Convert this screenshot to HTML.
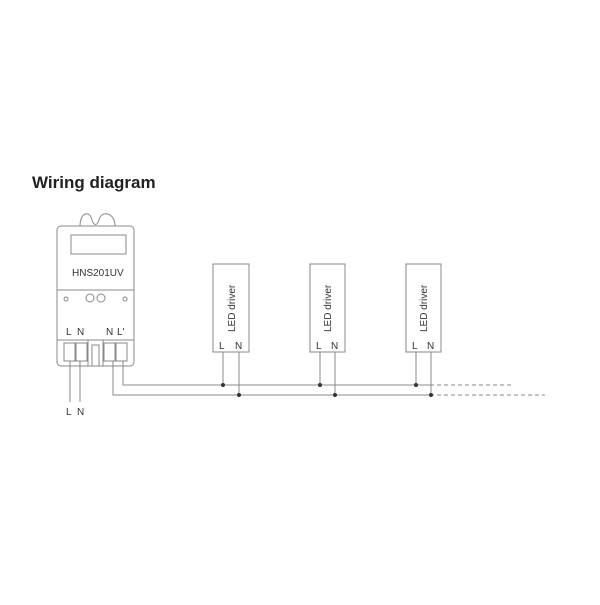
<!DOCTYPE html><html><head><style>body{margin:0;background:#fff}</style></head><body>
<svg width="600" height="600" xmlns="http://www.w3.org/2000/svg" font-family="Liberation Sans, sans-serif">
<rect width="600" height="600" fill="#fff"/>
<text x="32" y="188" font-size="17" font-weight="bold" fill="#222">Wiring diagram</text>
<g stroke="#888" fill="none" stroke-width="1">
<path d="M80 226 C80 212 90 210 92 220 C94 226 97 226 99 220 C101 210 115 212 115 226"/>
<rect x="57" y="226" width="77" height="140" rx="4"/>
<rect x="71" y="235" width="55" height="19"/>
<line x1="57" y1="290" x2="134" y2="290"/>
<line x1="57" y1="340" x2="134" y2="340"/>
<circle cx="66" cy="299" r="2"/><circle cx="125" cy="299" r="2"/>
<circle cx="90" cy="298" r="4"/><circle cx="101" cy="298" r="4"/>
<rect x="64" y="343" width="11" height="18"/><rect x="76" y="343" width="11" height="18"/>
<rect x="104" y="343" width="11" height="18"/><rect x="116" y="343" width="11" height="18"/>
<path d="M88 366 V340 H103 V366 M92 366 V345 H99 V366"/>
<line x1="70" y1="361" x2="70" y2="402"/><line x1="80" y1="361" x2="80" y2="402"/>
<path d="M113 361 V395 H430"/><path d="M123 361 V385 H430"/>
<path d="M430 385 H512 M430 395 H545" stroke-dasharray="4 3"/>
<rect x="213" y="264" width="36" height="88"/><rect x="310" y="264" width="35" height="88"/><rect x="406" y="264" width="35" height="88"/>
<path d="M223 352V385 M239 352V395 M320 352V385 M335 352V395 M416 352V385 M431 352V395"/>
</g>
<g fill="#333"><circle cx="223" cy="385" r="2"/><circle cx="239" cy="395" r="2"/><circle cx="320" cy="385" r="2"/><circle cx="335" cy="395" r="2"/><circle cx="416" cy="385" r="2"/><circle cx="431" cy="395" r="2"/></g>
<g font-size="10" fill="#333">
<text x="72" y="276">HNS201UV</text>
<text x="66" y="335">L</text><text x="77" y="335">N</text><text x="106" y="335">N</text><text x="117" y="335">L'</text>
<text x="66" y="415">L</text><text x="77" y="415">N</text>
<text x="219" y="349">L</text><text x="235" y="349">N</text>
<text x="316" y="349">L</text><text x="331" y="349">N</text>
<text x="412" y="349">L</text><text x="427" y="349">N</text>
<text transform="translate(235 332) rotate(-90)">LED driver</text>
<text transform="translate(331 332) rotate(-90)">LED driver</text>
<text transform="translate(427 332) rotate(-90)">LED driver</text>
</g>
</svg></body></html>
